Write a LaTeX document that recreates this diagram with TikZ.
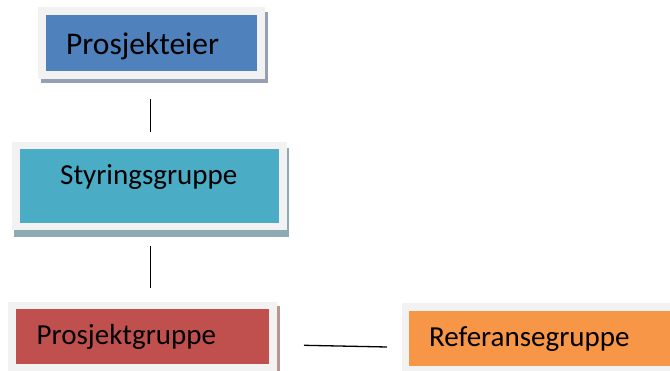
\documentclass[tikz,border=0pt]{standalone}
\usepackage{fontspec}
\setmainfont{Carlito}
\definecolor{cblue}{HTML}{4F81BD}
\definecolor{cteal}{HTML}{4BACC6}
\definecolor{cred}{HTML}{C0504D}
\definecolor{corange}{HTML}{F79646}
\definecolor{cframe}{HTML}{F2F2F2}
\definecolor{sblue}{HTML}{95A1B3}
\definecolor{steal}{HTML}{8EAAB3}
\definecolor{sred}{HTML}{B89492}
\definecolor{sorange}{HTML}{D9C3B0}
\tikzset{
  frame/.style={fill=cframe, draw=none},
  boxnode/.style={draw=none, inner sep=0pt, anchor=north west},
  lbl/.style={inner sep=0pt, anchor=base west, text=black},
  conn/.style={draw=black, line width=1.6pt}
}
\begin{document}
\begin{tikzpicture}[x=1pt,y=-1pt]
\useasboundingbox (0,0) rectangle (670,371);
\fill[white] (0,0) rectangle (670,371);
% Prosjekteier
\fill[sblue] (41,12) rectangle (268,83);
\fill[frame] (38,7) rectangle (265,79);
\node[boxnode, fill=cblue, minimum width=211pt, minimum height=56pt] (eier) at (46,15) {};
\node[lbl, font=\fontsize{31.5}{36}\selectfont] (eiert) at (66,55) {Prosjekteier};
% Styringsgruppe
\fill[steal] (14,148) rectangle (289,237);
\fill[frame] (12,142) rectangle (287,230);
\node[boxnode, fill=cteal, minimum width=259pt, minimum height=74pt] (styr) at (20,149) {};
\node[lbl, font=\fontsize{29}{34}\selectfont] (styrt) at (60,185) {Styringsgruppe};
% Prosjektgruppe
\fill[sred] (11,306) rectangle (280,375);
\fill[frame] (8,302) rectangle (277,375);
\node[boxnode, fill=cred, minimum width=253pt, minimum height=55pt] (pg) at (16,309) {};
\node[lbl, font=\fontsize{29}{34}\selectfont] (pgt) at (36.5,345) {Prosjektgruppe};
% Referansegruppe
\fill[frame] (402,303) rectangle (672,375);
\node[boxnode, fill=corange, minimum width=261pt, minimum height=55pt] (ref) at (409,311) {};
\node[lbl, font=\fontsize{29}{34}\selectfont] (reft) at (429,346.5) {Referansegruppe};
% connectors
\coordinate (a1) at (150.3,99);
\coordinate (a2) at (150.3,132);
\coordinate (b1) at (150.3,246);
\coordinate (b2) at (150.3,288);
\coordinate (c1) at (304,345.3);
\coordinate (c2) at (387,347);
\draw[conn] (a1) -- (a2);
\draw[conn] (b1) -- (b2);
\draw[conn, line width=1.3pt] (c1) -- (c2);
\end{tikzpicture}
\end{document}
